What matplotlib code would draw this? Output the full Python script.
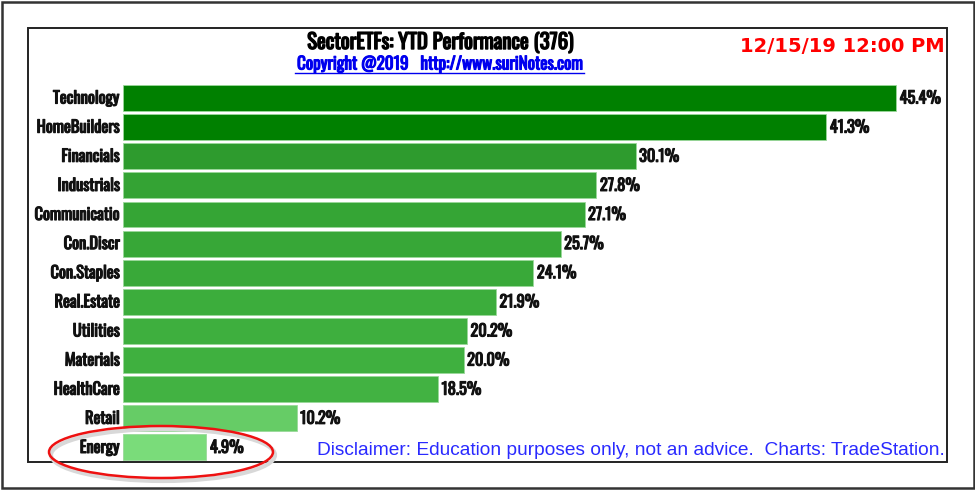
import matplotlib
matplotlib.use("Agg")
import matplotlib.pyplot as plt
import matplotlib.patheffects as pe
from matplotlib.patches import Rectangle, Ellipse

# dati
sectors = ["Technology", "HomeBuilders", "Financials", "Industrials", "Communicatio",
           "Con.Discr", "Con.Staples", "Real.Estate", "Utilities", "Materials",
           "HealthCare", "Retail", "Energy"]
ytd = [45.4, 41.3, 30.1, 27.8, 27.1, 25.7, 24.1, 21.9, 20.2, 20.0, 18.5, 10.2, 4.9]
colors = ["#008000", "#008000", "#2e9b2e", "#34a334", "#35a535", "#37a737", "#39a939",
          "#3cad3c", "#3eaf3e", "#3fb03f", "#42b242", "#66cc66", "#7adc7a"]

title = "SectorETFs: YTD Performance (376)"
subtitle = "Copyright @2019   http://www.suriNotes.com"
stamp = "12/15/19 12:00 PM"
disclaimer = "Disclaimer: Education purposes only, not an advice.  Charts: TradeStation."

W, H = 975, 490
NARROW = ["Oswald", "Roboto Condensed", "IBM Plex Sans Condensed", "DejaVu Sans"]
ARIAL = ["Liberation Sans", "DejaVu Sans"]


def fx(x):
    return x / W


def fy(y):
    return 1 - y / H


def bold(color, w=0.8):
    # Oswald qui c'e' solo sottile: ispessiamo con un contorno dello stesso colore
    return [pe.withStroke(linewidth=w, foreground=color)]


fig = plt.figure(figsize=(W / 100, H / 100), dpi=100)

# cornici
fig.patches.append(Rectangle((fx(1.5), fy(488)), fx(972), 486 / H, transform=fig.transFigure,
                             fill=False, edgecolor="#333333", linewidth=1.8))
fig.patches.append(Rectangle((fx(28), fy(462)), fx(919), 434 / H, transform=fig.transFigure,
                             fill=False, edgecolor="#222222", linewidth=1.4, zorder=5))

# area barre
left, right, top, bottom = 123, 947, 83.5, 462
ax = fig.add_axes([fx(left), fy(bottom), fx(right - left), (bottom - top) / H])
pos = list(range(len(sectors)))
ax.barh(pos, ytd, height=0.89, color=colors, edgecolor="#9ad89a", linewidth=0.6)
ax.set_xlim(0, (right - left) / 17.03)
ax.set_ylim(len(sectors) - 0.5, -0.5)
ax.axis("off")

for p, v, name in zip(pos, ytd, sectors):
    ax.annotate(f"{v:.1f}%", (v, p), xytext=(2.5, 0), textcoords="offset points",
                va="center", ha="left", fontsize=11.8, family=NARROW,
                color="#111111", path_effects=bold("#111111"))
    ax.annotate(name, (0, p), xytext=(-2.5, 0), textcoords="offset points",
                va="center", ha="right", fontsize=11.8, family=NARROW,
                color="#111111", path_effects=bold("#111111"))

fig.text(fx(440), fy(42.5), title, ha="center", va="center", fontsize=15,
         family=NARROW, path_effects=bold("black", 1.0))
fig.text(fx(440), fy(64), subtitle, ha="center", va="center", fontsize=12.3,
         family=NARROW, color="#0000ee", path_effects=bold("#0000ee"))
fig.add_artist(plt.Line2D([fx(295), fx(584)], [fy(73.5), fy(73.5)], color="#0000ee", linewidth=1.0))
fig.text(fx(945), fy(46.5), stamp, ha="right", va="center", fontsize=14,
         fontweight="bold", family=["DejaVu Sans"], color="#ff0000")
fig.text(fx(945), fy(450), disclaimer, ha="right", va="center", fontsize=13.8,
         family=ARIAL, color="#2a2aff")

# ellisse rossa attorno a Energy
fig.patches.append(Ellipse((fx(163), fy(455)), fx(224), 52 / H, transform=fig.transFigure,
                           fill=False, edgecolor="#d8d8d8", linewidth=3.0, zorder=6))
fig.patches.append(Ellipse((fx(161), fy(452)), fx(224), 52 / H, transform=fig.transFigure,
                           fill=False, edgecolor="#ee1111", linewidth=1.8, zorder=7))

fig.savefig("out.png", dpi=100)
